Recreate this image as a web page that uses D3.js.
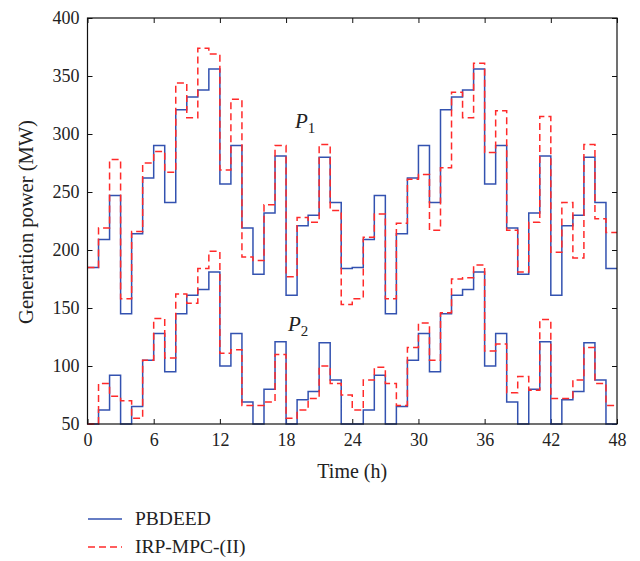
<!doctype html>
<html>
<head>
<meta charset="utf-8">
<script src="https://d3js.org/d3.v7.min.js"></script>
<style>
  body { margin: 0; background: #fff; }
  svg text { font-family: "Liberation Serif", "Times New Roman", serif; fill: #222; }
</style>
</head>
<body>
<div id="chart"></div>
<script>
// hourly values, each held for one hour (stairs)
var hours = d3.range(0, 48)
var xTicks = [0, 6, 12, 18, 24, 30, 36, 42, 48]
var yTicks = [50, 100, 150, 200, 250, 300, 350, 400]

var p1Pbdeed = [185, 209, 247, 145, 214, 262, 290, 241, 321, 332, 338, 356, 257, 290, 219, 179, 232, 281, 161, 221, 230, 280, 241, 184,
                185, 209, 247, 145, 214, 262, 290, 241, 321, 332, 338, 356, 257, 290, 219, 179, 232, 281, 161, 221, 230, 280, 241, 184]
var p1Irp    = [185, 219, 278, 158, 216, 275, 285, 267, 344, 314, 374, 369, 269, 330, 194, 191, 239, 290, 177, 228, 224, 291, 234, 153,
                158, 211, 231, 158, 223, 261, 265, 217, 271, 336, 314, 361, 284, 320, 217, 181, 224, 315, 198, 241, 193, 291, 227, 215]
var p2Pbdeed = [50, 62, 92, 50, 65, 105, 128, 95, 145, 161, 166, 181, 100, 128, 69, 50, 80, 121, 50, 71, 78, 120, 88, 50,
                50, 62, 92, 50, 65, 105, 128, 95, 145, 161, 166, 181, 100, 128, 69, 50, 80, 121, 50, 71, 78, 120, 88, 50]
var p2Irp    = [50, 85, 74, 70, 55, 105, 141, 107, 162, 154, 184, 199, 111, 114, 66, 66, 69, 110, 55, 62, 72, 100, 85, 75,
                62, 88, 99, 85, 66, 116, 137, 105, 146, 175, 176, 187, 113, 119, 77, 91, 79, 140, 72, 72, 88, 116, 85, 66]

var legendNames = ["PBDEED", "IRP-MPC-(II)"]

var width = 640, height = 561
var plotL = 87.5, plotR = 617, plotT = 18, plotB = 424

var svg = d3.select("#chart").append("svg")
    .attr("width", width)
    .attr("height", height)

var x = d3.scaleLinear().domain([0, 48]).range([plotL, plotR])
var y = d3.scaleLinear().domain([50, 400]).range([plotB, plotT])

var blue = "#3352b0", red = "#ff2a2a"

// axes with inward ticks on all four sides
svg.append("g")
    .attr("transform", "translate(0," + plotB + ")")
    .call(d3.axisBottom(x).tickValues(xTicks).tickSize(-5).tickSizeOuter(0).tickPadding(9))
    .call(function(g){ g.select(".domain").remove() })
    .selectAll("text").style("font-size", "18px")

svg.append("g")
    .attr("transform", "translate(0," + plotT + ")")
    .call(d3.axisTop(x).tickValues(xTicks).tickSize(-5).tickSizeOuter(0).tickFormat(""))
    .call(function(g){ g.select(".domain").remove() })

svg.append("g")
    .attr("transform", "translate(" + plotL + ",0)")
    .call(d3.axisLeft(y).tickValues(yTicks).tickSize(-5).tickSizeOuter(0).tickPadding(8))
    .call(function(g){ g.select(".domain").remove() })
    .selectAll("text").style("font-size", "18px")

svg.append("g")
    .attr("transform", "translate(" + plotR + ",0)")
    .call(d3.axisRight(y).tickValues(yTicks).tickSize(-5).tickSizeOuter(0).tickFormat(""))
    .call(function(g){ g.select(".domain").remove() })

svg.selectAll(".tick line").attr("stroke", "#111")

// stairs
var line = d3.line()
    .x(function(d){ return x(d[0]) })
    .y(function(d){ return y(d[1]) })
    .curve(d3.curveStepAfter)

function stairs(vals) {
  var pts = hours.map(function(h, i){ return [h, vals[i]] })
  pts.push([48, vals[vals.length - 1]])
  return pts
}

var series = [
  {vals: p1Pbdeed, color: blue, dash: null},
  {vals: p2Pbdeed, color: blue, dash: null},
  {vals: p1Irp, color: red, dash: "7,4"},
  {vals: p2Irp, color: red, dash: "7,4"}
]

svg.selectAll("path.series")
  .data(series)
  .enter().append("path")
    .attr("class", "series")
    .attr("d", function(d){ return line(stairs(d.vals)) })
    .attr("fill", "none")
    .attr("stroke", function(d){ return d.color })
    .attr("stroke-width", 1.5)
    .attr("stroke-dasharray", function(d){ return d.dash })

// frame
svg.append("rect")
    .attr("x", plotL).attr("y", plotT)
    .attr("width", plotR - plotL).attr("height", plotB - plotT)
    .attr("fill", "none").attr("stroke", "#111").attr("stroke-width", 1.2)

// curve labels
function pLabel(px, py, sub) {
  var t = svg.append("text").attr("x", px).attr("y", py).style("font-size", "21px")
  t.append("tspan").text("P").style("font-style", "italic")
  t.append("tspan").text(sub).attr("dy", 5).style("font-size", "15px")
}
pLabel(295, 128, "1")
pLabel(288, 331, "2")

// axis titles
svg.append("text")
    .attr("x", (plotL + plotR) / 2).attr("y", 478)
    .attr("text-anchor", "middle")
    .style("font-size", "20px")
    .text("Time (h)")

svg.append("text")
    .attr("transform", "translate(33," + ((plotT + plotB) / 2 + 1) + ") rotate(-90)")
    .attr("text-anchor", "middle")
    .style("font-size", "20.5px")
    .text("Generation power (MW)")

// legend
var legend = svg.selectAll("g.legend")
  .data(legendNames)
  .enter().append("g")
    .attr("class", "legend")
    .attr("transform", function(d, i){ return "translate(88," + (519 + i * 28) + ")" })

legend.append("line")
    .attr("x1", 0).attr("x2", 34)
    .attr("stroke", function(d, i){ return i == 0 ? blue : red })
    .attr("stroke-width", 1.5)
    .attr("stroke-dasharray", function(d, i){ return i == 0 ? null : "7,4" })

legend.append("text")
    .attr("x", 47).attr("y", 6)
    .style("font-size", "19.5px")
    .text(function(d){ return d })
</script>
</body>
</html>
